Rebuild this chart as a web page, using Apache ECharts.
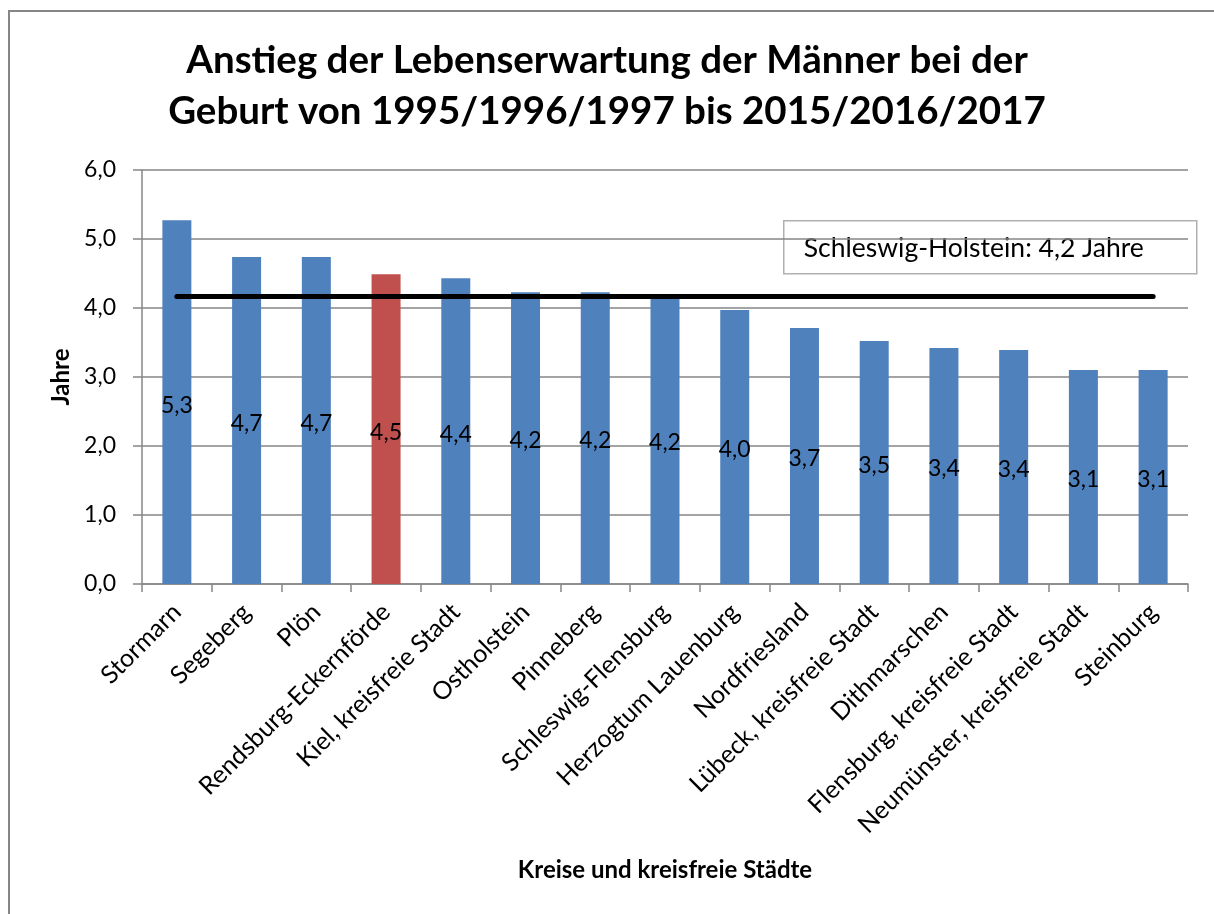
<!DOCTYPE html>
<html>
<head>
<meta charset="utf-8">
<script src="https://cdn.jsdelivr.net/npm/echarts@6/dist/echarts.min.js"></script>
<style>
  html, body { margin: 0; padding: 0; background: #fff; }
  #chart { width: 1214px; height: 914px; }
</style>
</head>
<body>
<div id="chart"></div>
<script>
// Kreise und kreisfreie Städte, sorted by increase in life expectancy (men)
const categories = [
  'Stormarn', 'Segeberg', 'Plön', 'Rendsburg-Eckernförde', 'Kiel, kreisfreie Stadt',
  'Ostholstein', 'Pinneberg', 'Schleswig-Flensburg', 'Herzogtum Lauenburg', 'Nordfriesland',
  'Lübeck, kreisfreie Stadt', 'Dithmarschen', 'Flensburg, kreisfreie Stadt',
  'Neumünster, kreisfreie Stadt', 'Steinburg'
];
// Increase in years, 1995/1996/1997 -> 2015/2016/2017
const increase = [5.27, 4.74, 4.74, 4.49, 4.43, 4.23, 4.23, 4.18, 3.97, 3.71, 3.52, 3.42, 3.39, 3.10, 3.10];
// Highlighted district
const highlight = 'Rendsburg-Eckernförde';
// State average Schleswig-Holstein
const SH_AVG = 4.17;
// Y axis ticks
const yTicks = [0, 1, 2, 3, 4, 5, 6];

const FONT = 'Lato, "Open Sans", sans-serif';
const fmt1 = v => v.toFixed(1).replace('.', ',');

const chart = echarts.init(document.getElementById('chart'), null, { renderer: 'canvas' });

chart.setOption({
  animation: false,
  backgroundColor: '#fff',
  title: {
    text: 'Anstieg der Lebenserwartung der Männer bei der\nGeburt von 1995/1996/1997 bis 2015/2016/2017',
    left: 'center',
    top: 30,
    textStyle: { fontFamily: FONT, fontSize: 38.5, fontWeight: 'bold', color: '#000', lineHeight: 51 }
  },
  grid: { left: 142, right: 26, top: 170, bottom: 330, containLabel: false },
  xAxis: {
    type: 'category',
    data: categories,
    name: 'Kreise und kreisfreie Städte',
    nameLocation: 'middle',
    nameGap: 274,
    nameTextStyle: { fontFamily: FONT, fontSize: 24, fontWeight: 'bold', color: '#000' },
    axisLine: { show: true, lineStyle: { color: '#868686', width: 1.5 } },
    axisTick: { show: true, length: 8, alignWithLabel: false, lineStyle: { color: '#868686', width: 1.5 } },
    axisLabel: {
      interval: 0, rotate: 45, margin: 24,
      fontFamily: FONT, fontSize: 25, color: '#000'
    }
  },
  yAxis: {
    type: 'value',
    min: yTicks[0],
    max: yTicks[yTicks.length - 1],
    interval: 1,
    name: 'Jahre',
    nameLocation: 'middle',
    nameGap: 68,
    nameRotate: 90,
    nameTextStyle: { fontFamily: FONT, fontSize: 24, fontWeight: 'bold', color: '#000' },
    axisLine: { show: true, lineStyle: { color: '#868686', width: 1.5 } },
    axisTick: { show: true, length: 9, inside: false, lineStyle: { color: '#868686', width: 1.5 } },
    axisLabel: {
      margin: 26, fontFamily: FONT, fontSize: 23, color: '#000',
      formatter: v => fmt1(v)
    },
    splitLine: { show: true, lineStyle: { color: '#868686', width: 1.5 } }
  },
  series: [{
    type: 'bar',
    data: increase.map((v, i) => ({
      value: v,
      itemStyle: { color: categories[i] === highlight ? '#C0504D' : '#4F81BD' }
    })),
    barWidth: 29,
    label: {
      show: true,
      position: 'inside',
      offset: [0, 3],
      fontFamily: FONT, fontSize: 23, color: '#000',
      formatter: p => fmt1(p.value)
    },
    markLine: {
      silent: true,
      symbol: 'none',
      label: { show: false },
      lineStyle: { color: '#000', width: 5, type: 'solid', cap: 'round' },
      emphasis: { disabled: true },
      data: [[
        { coord: [categories[0], SH_AVG] },
        { coord: [categories[categories.length - 1], SH_AVG] }
      ]]
    }
  }],
  graphic: [
    {
      type: 'rect',
      z: -10,
      shape: { x: 9, y: 11, width: 1300, height: 1000 },
      style: { fill: 'none', stroke: '#868686', lineWidth: 2 }
    },
    {
      type: 'group',
      left: 783,
      top: 220,
      z: 100,
      children: [
        {
          type: 'rect',
          shape: { x: 0, y: 0, width: 413, height: 53 },
          style: { fill: '#fff', stroke: '#b0b0b0', lineWidth: 1.5 }
        },
        {
          type: 'text',
          x: 20, y: 28,
          style: {
            text: 'Schleswig-Holstein: ' + fmt1(SH_AVG) + ' Jahre',
            font: '26.5px ' + FONT,
            fill: '#000',
            textVerticalAlign: 'middle'
          }
        }
      ]
    }
  ]
});
</script>
</body>
</html>
